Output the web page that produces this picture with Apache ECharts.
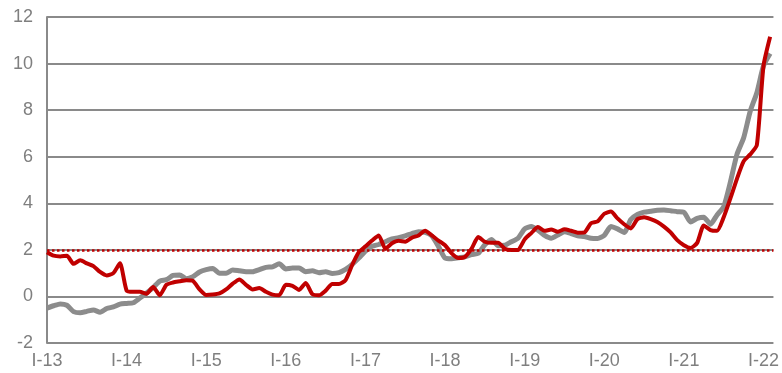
<!DOCTYPE html>
<html>
<head>
<meta charset="utf-8">
<script src="https://cdn.jsdelivr.net/npm/echarts@6/dist/echarts.min.js"></script>
<style>
  html, body { margin: 0; padding: 0; background: #fff; }
  #chart { width: 782px; height: 373px; }
</style>
</head>
<body>
<div id="chart"></div>
<script>
// Monthly series, January 2013 to February 2022 (index 0 = Jan 2013)
const redSeries = [
  1.90, 1.75, 1.72, 1.75, 1.40, 1.55, 1.42, 1.30, 1.05, 0.90, 1.00, 1.42,
  0.25, 0.20, 0.20, 0.12, 0.40, 0.05, 0.50, 0.60, 0.65, 0.70, 0.67, 0.30,
  0.06, 0.08, 0.13, 0.30, 0.55, 0.73, 0.50, 0.30, 0.36, 0.20, 0.08, 0.05,
  0.50, 0.45, 0.28, 0.58, 0.10, 0.05, 0.25, 0.53, 0.53, 0.70, 1.35, 1.90,
  2.15, 2.40, 2.62, 2.05, 2.28, 2.39, 2.35, 2.52, 2.62, 2.82, 2.62, 2.40,
  2.20, 1.85, 1.65, 1.70, 2.05, 2.55, 2.35, 2.30, 2.30, 2.05, 1.99, 2.00,
  2.45, 2.72, 2.98, 2.82, 2.87, 2.78, 2.88, 2.82, 2.74, 2.75, 3.14, 3.22,
  3.55, 3.65, 3.35, 3.10, 2.92, 3.32, 3.40, 3.32, 3.20, 3.00, 2.75, 2.42,
  2.20, 2.08, 2.30, 3.05, 2.85, 2.82, 3.40, 4.20, 5.05, 5.80, 6.10, 6.50,
  9.90, 11.15
];
const graySeries = [
  -0.50, -0.40, -0.32, -0.38, -0.65, -0.70, -0.64, -0.58, -0.68, -0.52, -0.45, -0.33,
  -0.30, -0.27, -0.07, 0.15, 0.38, 0.66, 0.72, 0.90, 0.92, 0.76, 0.85, 1.05,
  1.15, 1.20, 1.00, 1.00, 1.14, 1.10, 1.06, 1.06, 1.15, 1.25, 1.27, 1.40,
  1.18, 1.22, 1.22, 1.06, 1.10, 1.02, 1.06, 0.99, 1.02, 1.16, 1.38, 1.65,
  1.95, 2.15, 2.23, 2.35, 2.47, 2.52, 2.60, 2.70, 2.78, 2.75, 2.60, 2.15,
  1.65, 1.62, 1.66, 1.70, 1.80, 1.85, 2.22, 2.45, 2.18, 2.20, 2.35, 2.50,
  2.90, 3.00, 2.85, 2.62, 2.50, 2.64, 2.78, 2.70, 2.60, 2.57, 2.50, 2.49,
  2.62, 3.00, 2.90, 2.75, 3.30, 3.52, 3.62, 3.66, 3.70, 3.71, 3.68, 3.64,
  3.62, 3.20, 3.35, 3.40, 3.10, 3.50, 3.85, 4.90, 6.10, 6.80, 7.95, 8.75,
  9.90, 10.43
];
// January labels, one per year
const tickLabels = ['I-13', 'I-14', 'I-15', 'I-16', 'I-17', 'I-18', 'I-19', 'I-20', 'I-21', 'I-22'];
const yTicks = [-2, 0, 2, 4, 6, 8, 10, 12];
const targetLevel = 2;

const toPairs = arr => arr.map((v, i) => [i, v]);
const labelFont = "'Liberation Sans Narrow', 'Arial Narrow', 'Liberation Sans', Arial, sans-serif";
const gridColor = '#8a8a8a';

const chart = echarts.init(document.getElementById('chart'), null, { renderer: 'canvas' });
chart.setOption({
  animation: false,
  backgroundColor: '#ffffff',
  grid: { left: 47, right: 4, top: 17, bottom: 30, containLabel: false },
  xAxis: {
    type: 'value',
    min: 0,
    max: 109.5,
    interval: 12,
    axisLine: { show: false },
    axisTick: { show: false },
    splitLine: { show: false },
    axisLabel: {
      color: '#7f7f7f',
      fontFamily: labelFont,
      fontSize: 18,
      margin: 9,
      showMaxLabel: false,
      formatter: v => tickLabels[Math.round(v / 12)] || ''
    }
  },
  yAxis: {
    type: 'value',
    min: yTicks[0],
    max: yTicks[yTicks.length - 1],
    interval: 2,
    axisLine: { show: true, lineStyle: { color: gridColor, width: 2 } },
    axisTick: { show: false },
    splitLine: { show: true, lineStyle: { color: gridColor, width: 2 } },
    axisLabel: {
      color: '#7f7f7f',
      fontFamily: labelFont,
      fontSize: 18,
      margin: 14
    }
  },
  series: [
    {
      name: 'gray',
      type: 'line',
      data: toPairs(graySeries),
      showSymbol: false,
      smooth: 0.2,
      lineStyle: { color: '#8c8c8c', width: 5 },
      z: 2
    },
    {
      name: 'red',
      type: 'line',
      data: toPairs(redSeries),
      showSymbol: false,
      smooth: 0.2,
      lineStyle: { color: '#c00000', width: 4 },
      z: 3,
      markLine: {
        silent: true,
        symbol: ['none', 'none'],
        label: { show: false },
        lineStyle: { color: '#c00000', width: 2.5, type: [2.5, 2.5] },
        data: [{ yAxis: targetLevel }]
      }
    }
  ]
});
</script>
</body>
</html>
